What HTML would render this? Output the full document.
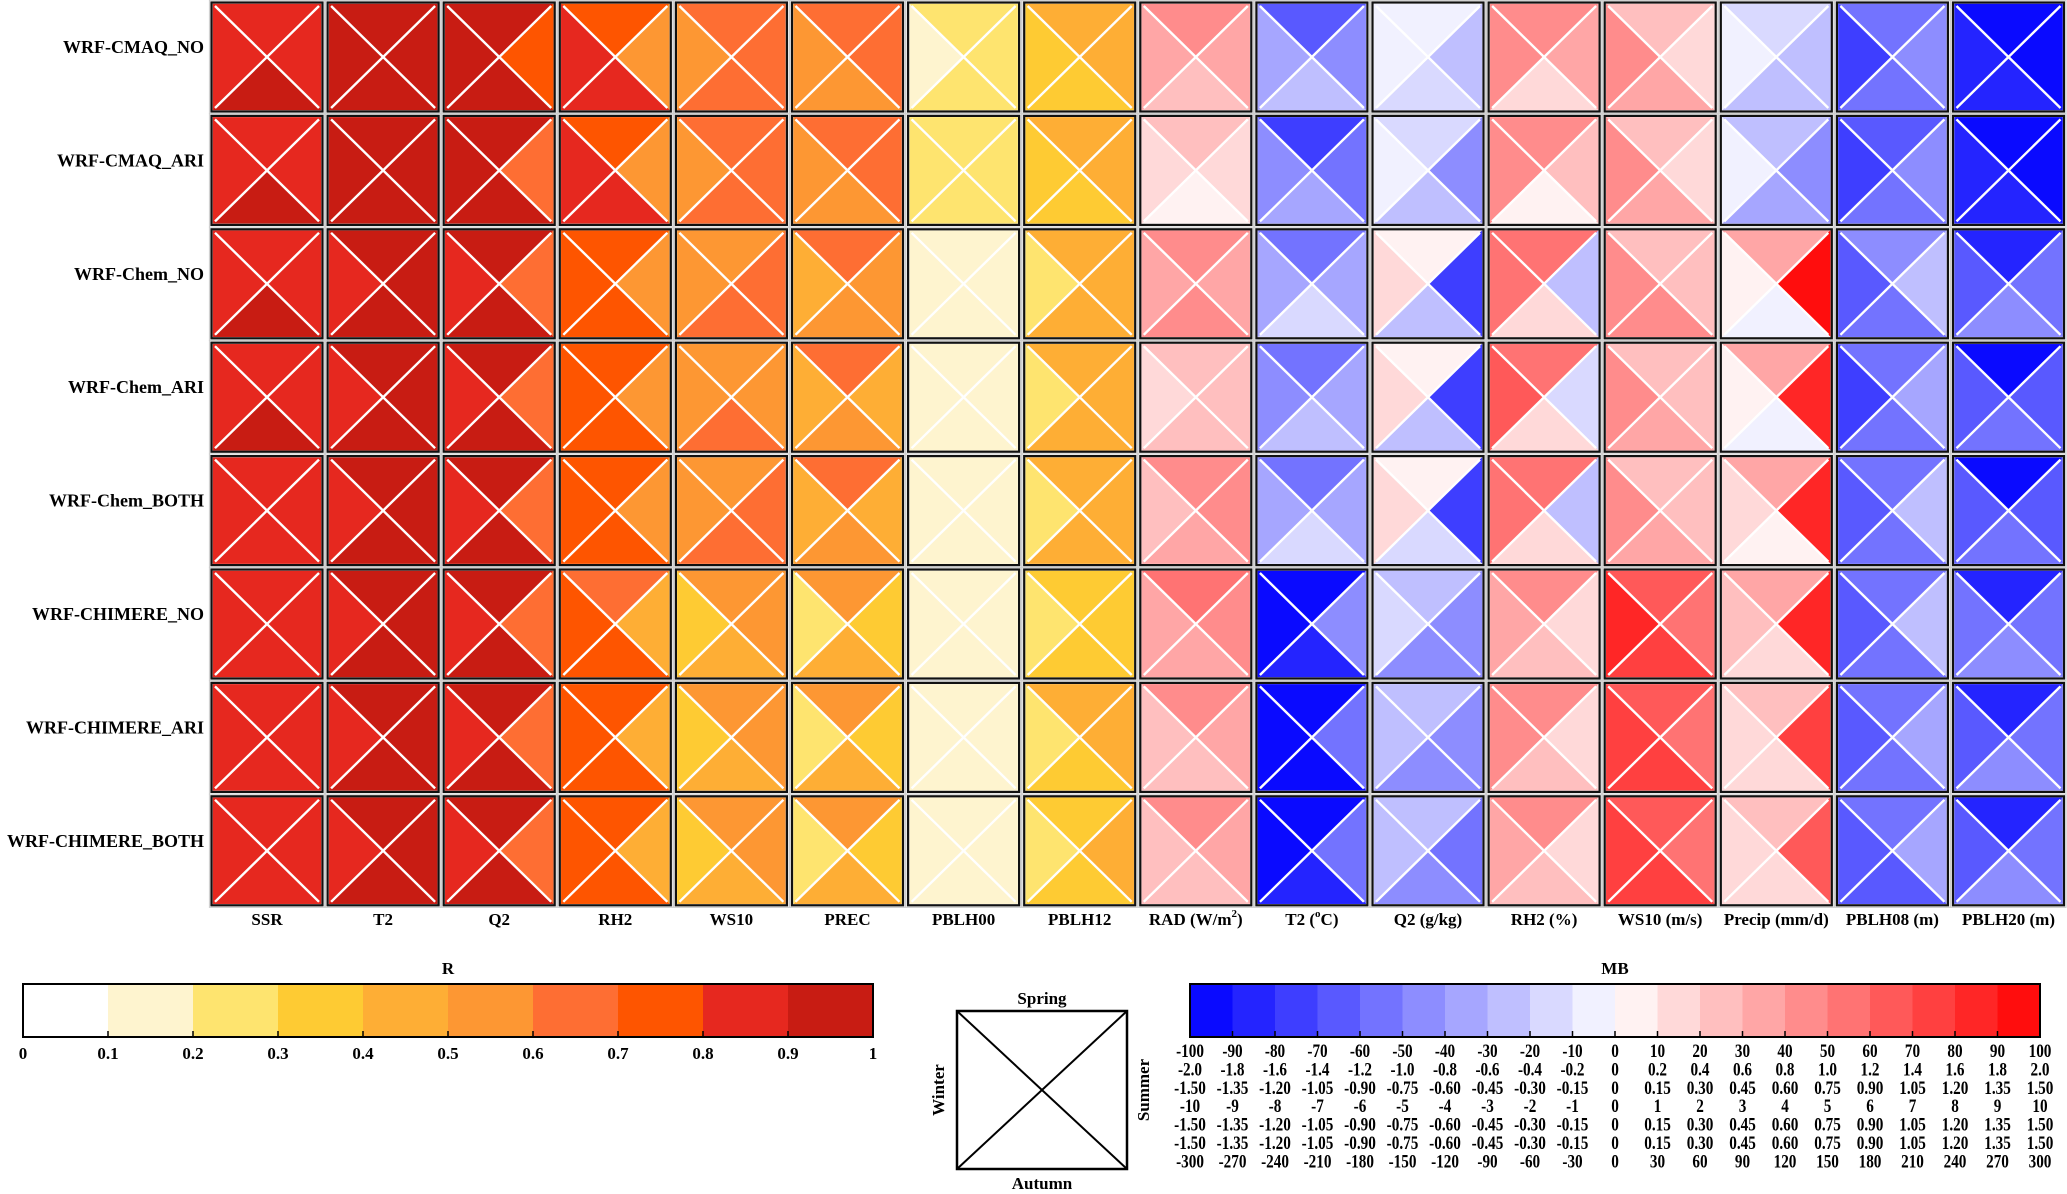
<!DOCTYPE html>
<html><head><meta charset="utf-8"><style>
html,body{margin:0;padding:0;background:#fff;}
svg{display:block;font-family:"Liberation Serif",serif;font-weight:bold;}
</style></head><body>
<svg id="chart" xmlns="http://www.w3.org/2000/svg" width="2067" height="1194" viewBox="0 0 2067 1194">
<g id="cells"></g>
<g id="rowlabels"></g>
<g id="collabels"></g>
<g id="rbar"></g>
<g id="mbbar"></g>
<g id="legendbox">
  <rect x="957" y="1011" width="170" height="158" fill="none" stroke="#000" stroke-width="2.5"/>
  <line x1="957" y1="1011" x2="1127" y2="1169" stroke="#000" stroke-width="2"/>
  <line x1="957" y1="1169" x2="1127" y2="1011" stroke="#000" stroke-width="2"/>
  <text x="1042" y="1004" font-size="17" text-anchor="middle">Spring</text>
  <text x="1042" y="1189" font-size="17" text-anchor="middle">Autumn</text>
  <text x="944" y="1090" font-size="17" text-anchor="middle" transform="rotate(-90 944 1090)">Winter</text>
  <text x="1149" y="1090" font-size="17" text-anchor="middle" transform="rotate(-90 1149 1090)">Summer</text>
</g>
</svg>
<script>
// ----- data -----
const rowNames = ["WRF-CMAQ_NO","WRF-CMAQ_ARI","WRF-Chem_NO","WRF-Chem_ARI","WRF-Chem_BOTH","WRF-CHIMERE_NO","WRF-CHIMERE_ARI","WRF-CHIMERE_BOTH"];
const rCols = ["SSR","T2","Q2","RH2","WS10","PREC","PBLH00","PBLH12"];
const mbCols = ["RAD (W/m","T2 (","Q2 (g/kg)","RH2 (%)","WS10 (m/s)","Precip (mm/d)","PBLH08 (m)","PBLH20 (m)"];
// each entry: [spring(top), summer(right), autumn(bottom), winter(left)]
const rValues = [
 [[.85,.85,.95,.85],[.95,.95,.95,.95],[.95,.75,.95,.95],[.75,.55,.85,.85],[.65,.65,.65,.55],[.65,.65,.55,.55],[.25,.25,.25,.15],[.45,.45,.35,.35]],
 [[.85,.85,.95,.85],[.95,.95,.95,.95],[.95,.65,.95,.95],[.75,.55,.85,.85],[.65,.65,.65,.55],[.65,.65,.55,.55],[.25,.25,.25,.25],[.45,.45,.35,.35]],
 [[.85,.85,.95,.85],[.95,.95,.95,.85],[.95,.65,.95,.85],[.75,.55,.75,.75],[.55,.65,.65,.55],[.65,.55,.55,.45],[.15,.15,.15,.15],[.45,.45,.45,.25]],
 [[.85,.85,.95,.85],[.95,.95,.95,.85],[.95,.65,.95,.85],[.75,.55,.75,.75],[.55,.55,.65,.55],[.65,.45,.55,.45],[.15,.15,.15,.15],[.45,.45,.45,.25]],
 [[.85,.85,.85,.85],[.95,.95,.95,.85],[.95,.65,.95,.85],[.75,.55,.75,.75],[.55,.65,.65,.55],[.65,.45,.55,.45],[.15,.15,.15,.15],[.45,.45,.45,.25]],
 [[.85,.85,.85,.85],[.95,.95,.95,.85],[.95,.65,.95,.85],[.65,.45,.75,.75],[.55,.55,.45,.35],[.55,.35,.45,.25],[.15,.15,.15,.15],[.35,.35,.35,.25]],
 [[.85,.85,.85,.85],[.95,.95,.95,.85],[.95,.65,.95,.85],[.75,.45,.75,.75],[.55,.55,.45,.35],[.55,.35,.45,.25],[.15,.15,.15,.15],[.45,.45,.35,.25]],
 [[.85,.85,.85,.85],[.95,.95,.95,.85],[.95,.65,.95,.85],[.75,.45,.75,.75],[.55,.55,.45,.35],[.55,.35,.45,.25],[.15,.15,.15,.15],[.35,.45,.35,.25]]
];
// MB as percent of each column's colorbar range (-100..100)
const mbPct = [
 [[45,35,25,35],[-65,-45,-25,-35],[-5,-25,-15,-5],[45,35,15,45],[25,15,35,45],[-15,-25,-25,-5],[-55,-45,-55,-75],[-95,-95,-85,-85]],
 [[25,15,5,15],[-75,-55,-35,-45],[-15,-45,-25,-5],[45,25,5,45],[25,15,35,45],[-25,-45,-35,-5],[-65,-45,-55,-75],[-95,-95,-85,-85]],
 [[45,35,45,35],[-55,-35,-15,-35],[5,-75,-25,15],[55,-25,15,55],[25,25,45,45],[35,95,-5,5],[-45,-25,-55,-65],[-85,-55,-45,-65]],
 [[25,25,25,15],[-55,-35,-25,-45],[5,-75,-25,15],[55,-15,15,65],[25,25,35,45],[35,85,-5,5],[-55,-35,-55,-75],[-95,-65,-55,-65]],
 [[45,45,35,25],[-55,-35,-15,-35],[5,-75,-15,15],[55,-25,15,55],[25,25,35,45],[35,85,5,15],[-55,-25,-55,-65],[-95,-65,-55,-65]],
 [[55,45,35,35],[-95,-45,-85,-95],[-25,-45,-45,-15],[45,15,25,35],[65,55,75,85],[35,85,15,25],[-55,-25,-55,-65],[-85,-55,-45,-55]],
 [[45,35,25,25],[-95,-55,-95,-95],[-25,-45,-45,-25],[45,15,25,45],[65,55,75,75],[25,75,15,15],[-55,-35,-55,-65],[-85,-55,-45,-65]],
 [[45,35,25,25],[-95,-55,-85,-95],[-25,-55,-45,-25],[45,15,25,35],[65,55,75,75],[25,65,15,15],[-55,-35,-65,-65],[-85,-55,-45,-65]]
];
const rTicks = ["0","0.1","0.2","0.3","0.4","0.5","0.6","0.7","0.8","0.9","1"];
const mbTickRows = [
 ["-100","-90","-80","-70","-60","-50","-40","-30","-20","-10","0","10","20","30","40","50","60","70","80","90","100"],
 ["-2.0","-1.8","-1.6","-1.4","-1.2","-1.0","-0.8","-0.6","-0.4","-0.2","0","0.2","0.4","0.6","0.8","1.0","1.2","1.4","1.6","1.8","2.0"],
 ["-1.50","-1.35","-1.20","-1.05","-0.90","-0.75","-0.60","-0.45","-0.30","-0.15","0","0.15","0.30","0.45","0.60","0.75","0.90","1.05","1.20","1.35","1.50"],
 ["-10","-9","-8","-7","-6","-5","-4","-3","-2","-1","0","1","2","3","4","5","6","7","8","9","10"],
 ["-1.50","-1.35","-1.20","-1.05","-0.90","-0.75","-0.60","-0.45","-0.30","-0.15","0","0.15","0.30","0.45","0.60","0.75","0.90","1.05","1.20","1.35","1.50"],
 ["-1.50","-1.35","-1.20","-1.05","-0.90","-0.75","-0.60","-0.45","-0.30","-0.15","0","0.15","0.30","0.45","0.60","0.75","0.90","1.05","1.20","1.35","1.50"],
 ["-300","-270","-240","-210","-180","-150","-120","-90","-60","-30","0","30","60","90","120","150","180","210","240","270","300"]
];
const rColors = ["#ffffff","#fef4cf","#fee46f","#fecb33","#feae35","#fd9733","#fe6e33","#fe5500","#e6281f","#c81c13"];
const mbColors = ["#0a0aff","#2424ff","#3e3eff","#5959ff","#7373ff","#8d8dff","#a6a6ff","#bfbfff","#d9d9ff","#f1f1ff",
                  "#fff2f2","#ffd9d9","#ffbfbf","#ffa6a6","#ff8c8c","#ff7373","#ff5959","#ff4040","#ff2626","#ff0d0d"];

// ----- scales -----
const NS="http://www.w3.org/2000/svg";
const X0=211, PX=116.1, CW=112, Y0=2, PY=113.4, CH=110;
function colX(i){return X0+i*PX;}
function rowY(j){return Y0+j*PY;}
function rColor(v){let k=Math.floor(v*10);k=Math.max(0,Math.min(9,k));return rColors[k];}
function mbColor(p){let k=Math.floor((p+100)/10);k=Math.max(0,Math.min(19,k));return mbColors[k];}
function mk(tag,attrs,parent){const e=document.createElementNS(NS,tag);for(const k in attrs)e.setAttribute(k,attrs[k]);parent.appendChild(e);return e;}

const cells=document.getElementById('cells');
const seasons=["spring","summer","autumn","winter"];
for(let j=0;j<8;j++){
  for(let i=0;i<16;i++){
    const vals = i<8 ? rValues[j][i] : mbPct[j][i-8];
    const colr = i<8 ? rColor : mbColor;
    const x=colX(i), y=rowY(j);
    const g=mk('g',{},cells);
    
    
    const a=x+2, b=y+2, c=x+CW-2, d=y+CH-2, mx=(a+c)/2, my=(b+d)/2;
    const tris=[[a,b,c,b],[c,b,c,d],[c,d,a,d],[a,d,a,b]];
    for(let s=0;s<4;s++){
      const t=tris[s];
      const p=mk('polygon',{points:`${t[0]},${t[1]} ${t[2]},${t[3]} ${mx},${my}`,fill:colr(vals[s]),stroke:colr(vals[s]),'stroke-width':0.5},g);
      
      
    }
    mk('line',{x1:a+2,y1:b+2,x2:c-2,y2:d-2,stroke:'#fff','stroke-width':2.4},g);
    mk('line',{x1:a+2,y1:d-2,x2:c-2,y2:b+2,stroke:'#fff','stroke-width':2.4},g);
    mk('rect',{x:x+0.5,y:y+0.5,width:CW-1,height:CH-1,fill:'none',stroke:'#111','stroke-width':2.2},g);
    mk('rect',{x:x-1.6,y:y-1.6,width:CW+3.2,height:CH+3.2,fill:'none',stroke:'#ccc','stroke-width':1},g);
  }
}
const rl=document.getElementById('rowlabels');
rowNames.forEach((n,j)=>{
  const t=mk('text',{x:204,y:rowY(j)+CH/2-4,'font-size':18,'text-anchor':'end'},rl);
  t.textContent=n;
  
  
});
const cl=document.getElementById('collabels');
for(let i=0;i<16;i++){
  const cx=colX(i)+CW/2;
  const t=mk('text',{x:cx,y:925,'font-size':17,'text-anchor':'middle'},cl);
  
  
  if(i<8){t.textContent=rCols[i];}
  else{
    const n=mbCols[i-8];
    if(i===8){t.textContent='RAD (W/m';const s=mk('tspan',{dy:-8,'font-size':11},t);s.textContent='2';const s2=mk('tspan',{dy:8},t);s2.textContent=')';}
    else if(i===9){t.textContent='T2 (';const s=mk('tspan',{dy:-8,'font-size':11},t);s.textContent='o';const s2=mk('tspan',{dy:8},t);s2.textContent='C)';}
    else t.textContent=n;
  }
}
// R colorbar
const rb=document.getElementById('rbar');
const RX0=23,RX1=873,RY=984,RH=53;
const rw=(RX1-RX0)/rColors.length;
rColors.forEach((c,k)=>{
  const r=mk('rect',{x:RX0+k*rw,y:RY,width:rw+0.5,height:RH,fill:c},rb);
  
  
});
mk('rect',{x:RX0,y:RY,width:RX1-RX0,height:RH,fill:'none',stroke:'#000','stroke-width':2},rb);
rTicks.forEach((l,k)=>{
  const x=RX0+k*rw;
  mk('line',{x1:x,y1:RY+RH,x2:x,y2:RY+RH-6,stroke:'#000','stroke-width':1.5},rb);
  const t=mk('text',{x:x,y:RY+RH+22,'font-size':17,'text-anchor':'middle'},rb);t.textContent=l;
  
  
});
const rt=mk('text',{x:(RX0+RX1)/2,y:974,'font-size':17,'text-anchor':'middle'},rb);rt.textContent='R';


// MB colorbar
const mb=document.getElementById('mbbar');
const MX0=1190,MX1=2040;
const mw=(MX1-MX0)/mbColors.length;
mbColors.forEach((c,k)=>{
  const r=mk('rect',{x:MX0+k*mw,y:RY,width:mw+0.5,height:RH,fill:c},mb);
  
  
});
mk('rect',{x:MX0,y:RY,width:MX1-MX0,height:RH,fill:'none',stroke:'#000','stroke-width':2},mb);
for(let k=1;k<mbColors.length;k++){const x=MX0+k*mw;mk('line',{x1:x,y1:RY+RH,x2:x,y2:RY+RH-6,stroke:'#000','stroke-width':1.5},mb);}
mbTickRows.forEach((row,r)=>{
  row.forEach((l,k)=>{
    const t=mk('text',{x:0,y:0,'font-size':19,'text-anchor':'middle',transform:`translate(${MX0+k*mw},${1057+r*18.4}) scale(0.8,1)`},mb);t.textContent=l;
    
    
  });
});
const mt=mk('text',{x:(MX0+MX1)/2,y:974,'font-size':17,'text-anchor':'middle'},mb);mt.textContent='MB';


</script>
</body></html>
